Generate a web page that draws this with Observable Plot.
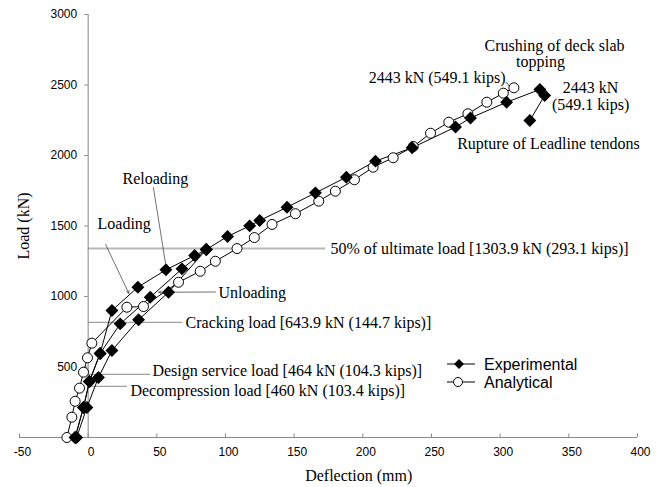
<!DOCTYPE html>
<html>
<head>
<meta charset="utf-8">
<script src="https://cdn.jsdelivr.net/npm/d3@7"></script>
<script src="https://cdn.jsdelivr.net/npm/@observablehq/plot@0.6"></script>
<style>
  html, body { margin: 0; padding: 0; background: #fff; }
  #chart { width: 661px; height: 487px; }
</style>
</head>
<body>
<div id="chart"></div>
<script>
// ---- Data ----
// Experimental: initial loading branch [deflection mm, load kN]
const expLoading = [[-9.5,0],[-3.4,213],[0.9,397],[8.7,596],[17.3,901],[36.2,1066],[56.6,1189],[77.5,1291],[86,1333]];
// Experimental: unloading branch
const expUnloading = [[86,1333],[58.5,1030],[36.7,835],[17.3,617],[7.5,426],[-0.9,213],[-8.4,0]];
// Experimental: reloading branch up to failure
const expReloading = [[-9.5,0],[-3.4,213],[0.9,397],[8.7,596],[23.3,806],[45.2,995],[68.3,1196],[86,1333],
  [101.5,1426],[117.6,1501],[124.9,1539],[144.8,1633],[165.5,1735],[188,1846],[209.2,1960],[235.9,2055],
  [267.5,2202],[278.4,2266],[304.7,2378],[328.9,2468],[332.4,2426],[321.6,2248]];
// Analytical prediction
const analytical = [[-15.5,0],[-11.9,144],[-9.5,257],[-6.3,350],[-3.4,463],[-0.5,565],[2.7,669],[28.2,924],[40.3,929],
  [65.8,1101],[81.6,1179],[92.6,1250],[108.4,1340],[121,1418],[133.9,1511],[150.9,1587],[167.9,1676],[180,1747],
  [193.9,1828],[207.5,1917],[222.1,1984],[236.7,2064],[249.3,2158],[262.6,2236],[276.5,2296],[290.3,2378],[302.3,2442],[310,2480]];

// Axis ticks
const xTicks = [-50,0,50,100,150,200,250,300,350,400];
const yTicks = [500,1000,1500,2000,2500,3000];

// Reference load lines [load kN, end deflection mm]
const refLines = [
  {y: 1340, x2: 172.8, w: 2, c: "#b8b8b8"},
  {y: 816, x2: 68.7, w: 1.2, c: "#a0a0a0"},
  {y: 447, x2: 45.4, w: 1.2, c: "#a0a0a0"},
  {y: 362, x2: 28.6, w: 1.2, c: "#a0a0a0"}
];
// Annotation labels
const notes = [
  {x: 6.8, y: 1518, t: "Loading", a: "start"},
  {x: 25, y: 1837, t: "Reloading", a: "start"},
  {x: 94.9, y: 1028, t: "Unloading", a: "start"},
  {x: 176.4, y: 1340, t: "50% of ultimate load [1303.9 kN (293.1 kips)]", a: "start"},
  {x: 70.9, y: 816, t: "Cracking load [643.9 kN (144.7 kips)]", a: "start"},
  {x: 46.8, y: 475, t: "Design service load [464 kN (104.3 kips)]", a: "start"},
  {x: 30.8, y: 333, t: "Decompression load [460 kN (103.4 kips)]", a: "start"},
  {x: 339.6, y: 2780, t: "Crushing of deck slab", a: "middle"},
  {x: 329.4, y: 2667, t: "topping", a: "middle"},
  {x: 303.9, y: 2553, t: "2443 kN (549.1 kips)", a: "end"},
  {x: 365.8, y: 2482, t: "2443 kN", a: "middle"},
  {x: 365.8, y: 2362, t: "(549.1 kips)", a: "middle"},
  {x: 335.2, y: 2085, t: "Rupture of Leadline tendons", a: "middle"}
];
// Leader arrows
const leaders = [
  {x1: 12.7, y1: 1369, x2: 29.6, y2: 1023},
  {x1: 47.5, y1: 1773, x2: 56.8, y2: 1206},
  {x1: 92.7, y1: 1032, x2: 51.4, y2: 1030}
];
// Short leader from the ultimate-load label to the last analytical point
const tick2443 = [{x1: 304.2, y1: 2520, x2: 307.8, y2: 2482}];

const serif = "'Liberation Serif', 'Times New Roman', serif";
const sans = "'Liberation Sans', Arial, sans-serif";

const expPoints = [...expLoading, ...expUnloading, ...expReloading];

const noteMark = anchor => Plot.text(notes.filter(d => d.a === anchor),
  {x: "x", y: "y", text: "t", textAnchor: anchor, fontFamily: serif, fontSize: 16, fill: "#000"});

const chart = Plot.plot({
  width: 661,
  height: 487,
  marginLeft: 19,
  marginRight: 24,
  marginTop: 14,
  marginBottom: 50,
  x: {domain: [-50, 400], axis: null},
  y: {domain: [0, 3000], axis: null},
  style: {background: "#fff", overflow: "visible"},
  marks: [
    // reference lines
    Plot.ruleY(refLines, {y: "y", x1: 0, x2: "x2", stroke: "c", strokeWidth: "w"}),
    // axes
    Plot.ruleY([0], {x1: -50, x2: 400, stroke: "#888", strokeWidth: 1}),
    Plot.ruleX([0], {y1: 0, y2: 3000, stroke: "#888", strokeWidth: 1}),
    Plot.ruleX(xTicks, {x: d => d, y1: 0, y2: 25, stroke: "#888"}),
    Plot.ruleY(yTicks, {y: d => d, x1: -2.5, x2: 0, stroke: "#888"}),
    Plot.text(xTicks, {x: d => d, y: 0, text: d => String(d), dy: 15, dx: 3, fontFamily: sans, fontSize: 12, fill: "#000"}),
    Plot.text(yTicks, {x: 0, y: d => d, text: d => String(d), dx: -11, textAnchor: "end", fontFamily: sans, fontSize: 12, fill: "#000"}),
    // leaders
    Plot.arrow(leaders, {x1: "x1", y1: "y1", x2: "x2", y2: "y2", stroke: "#333", strokeWidth: 0.7, headLength: 6}),
    Plot.link(tick2443, {x1: "x1", y1: "y1", x2: "x2", y2: "y2", stroke: "#000", strokeWidth: 0.8}),
    // curves
    Plot.line(analytical, {x: d => d[0], y: d => d[1], stroke: "#000", strokeWidth: 1}),
    Plot.line(expLoading, {x: d => d[0], y: d => d[1], stroke: "#000", strokeWidth: 1}),
    Plot.line(expUnloading, {x: d => d[0], y: d => d[1], stroke: "#000", strokeWidth: 1}),
    Plot.line(expReloading, {x: d => d[0], y: d => d[1], stroke: "#000", strokeWidth: 1}),
    Plot.dot(analytical, {x: d => d[0], y: d => d[1], r: 5, fill: "#fff", stroke: "#000", strokeWidth: 1}),
    Plot.dot(expPoints, {x: d => d[0], y: d => d[1], symbol: "square", rotate: 45, r: 4.3, fill: "#000", stroke: "#000"}),
    // annotations
    noteMark("start"),
    noteMark("middle"),
    noteMark("end"),
    // axis titles
    Plot.text(["Deflection (mm)"], {x: 197, y: 0, text: d => d, dy: 38, fontFamily: serif, fontSize: 16, fill: "#000"}),
    Plot.text(["Load (kN)"], {x: -50, y: 1500, text: d => d, dx: 4, rotate: -90, fontFamily: serif, fontSize: 16, fill: "#000"})
  ]
});

// in-plot legend
const svg = d3.select(chart);
const lg = svg.append("g").attr("font-family", sans).attr("font-size", 16).attr("text-anchor", "start");
[["Experimental", 364, "diamond"], ["Analytical", 382, "circle"]].forEach(([label, y, kind]) => {
  lg.append("line").attr("x1", 447).attr("x2", 475).attr("y1", y).attr("y2", y).attr("stroke", "#000");
  if (kind === "diamond") {
    lg.append("path").attr("d", `M459,${y-5}L464,${y}L459,${y+5}L454,${y}Z`).attr("fill", "#000");
  } else {
    lg.append("circle").attr("cx", 458).attr("cy", y).attr("r", 4.5).attr("fill", "#fff").attr("stroke", "#000");
  }
  lg.append("text").attr("x", 484).attr("y", y).attr("dy", "0.35em").attr("text-anchor", "start").text(label);
});

document.getElementById("chart").appendChild(chart);
</script>
</body>
</html>
